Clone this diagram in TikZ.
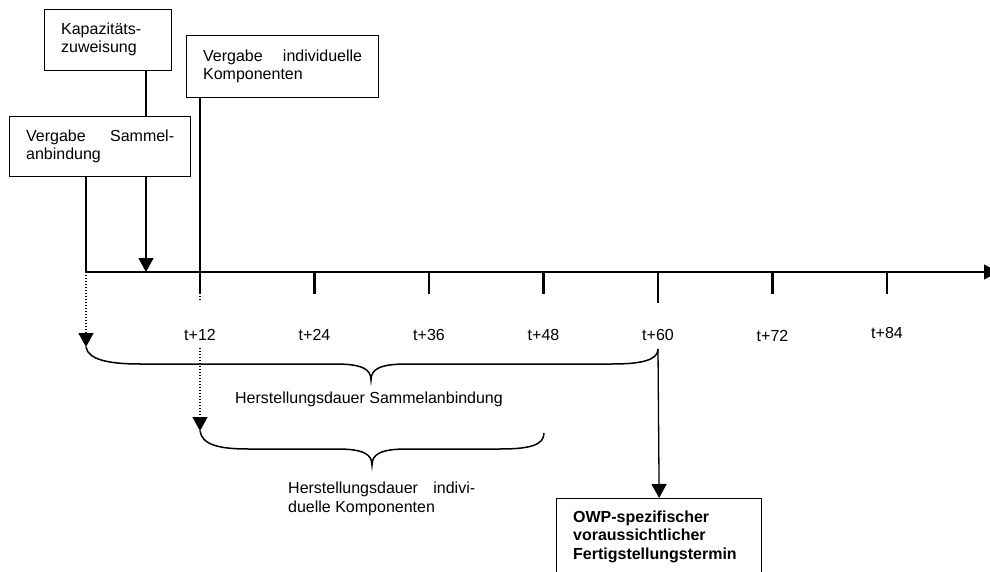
\documentclass[tikz,border=0pt]{standalone}
\usepackage{fontspec}
\setmainfont{Liberation Sans}
\usetikzlibrary{arrows.meta}
\newcommand\bxt[4]{\parbox[c][#2][t]{#1}{\vspace*{#3}#4}}
\begin{document}
\begin{tikzpicture}[x=1pt,y=-1pt,
  every node/.style={font=\fontsize{16pt}{18.4pt}\selectfont},
  box/.style={draw, line width=1.3pt, inner xsep=16.5pt, inner ysep=0pt, anchor=north west},
  ln/.style={line width=1.3pt},
  tk/.style={line width=2.2pt},
  arr/.style={line width=1.3pt, -{Triangle[width=15pt,length=14pt]}},
  dotline/.style={line width=1.3pt, dash pattern=on 1.2pt off 1.8pt},
  dotarr/.style={dotline, -{Triangle[width=15pt,length=14pt]}},
  brace/.style={line width=1.5pt},
  lab/.style={inner sep=0pt}
]
\useasboundingbox (0,0) rectangle (990,572);
\clip (0,0) rectangle (990,572);

% boxes
\node[box] (kap) at (44,9) {\bxt{94pt}{61pt}{13pt}{Kapazitäts-\\zuweisung}};
\node[box] (ind) at (186,35) {\bxt{159pt}{62pt}{14pt}{Vergabe\hfill individuelle\\Komponenten}};
\node[box] (sam) at (9,116) {\bxt{148pt}{60pt}{13pt}{Vergabe\hfill Sammel-\\anbindung}};
\node[box] (owp) at (556,498) {\bxt{172pt}{100pt}{12pt}{\bfseries OWP-spezifischer\\voraussichtlicher\\Fertigstellungstermin}};

% axis coordinates
\coordinate (ax0) at (86,272);
\coordinate (axE) at (998,272);
\coordinate (kA) at (146,272);
\coordinate (t12) at (200,272);
\coordinate (t24) at (314.5,272);
\coordinate (t36) at (429,272);
\coordinate (t48) at (543.5,272);
\coordinate (t60) at (658,272);
\coordinate (t72) at (772.5,272);
\coordinate (t84) at (887,272);

% connectors to axis
\draw[arr] (sam.south -| ax0) -- (ax0) -- (axE);
\draw[ln] (kap.south -| kA) -- (sam.north -| kA);
\draw[arr] (sam.south -| kA) -- (kA);
\draw[ln] (ind.south -| t12) -- (t12);

% ticks
\draw[ln] (t12) -- ++(0,21) coordinate (t12b);
\draw[dotline] (t12b) -- ++(0,9);
\foreach \c in {t24,t36,t48,t72,t84} \draw[tk] (\c) -- ++(0,22);
\draw[ln] (t60) -- ++(0,31);

% tick labels
\node[lab, anchor=base] (l12) at (200,340) {t+12};
\node[lab, anchor=base] (l24) at (314.5,340) {t+24};
\node[lab, anchor=base] (l36) at (429,340) {t+36};
\node[lab, anchor=base] (l48) at (543.5,340) {t+48};
\node[lab, anchor=base] (l60) at (658,340) {t+60};
\node[lab, anchor=base] (l72) at (772.5,341) {t+72};
\node[lab, anchor=base] (l84) at (887,338) {t+84};

% brace 1
\coordinate (b1s) at (86,347);
\coordinate (b1e) at (658,349);
\draw[dotarr] (ax0) -- (b1s);
\draw[brace] (b1s) .. controls (88,360) and (110,364) .. (140,364) -- (335,364)
  .. controls (362,364) and (371,369) .. (371,380)
  .. controls (371,369) and (380,364) .. (407,364) -- (612,364)
  .. controls (642,364) and (658,360) .. (b1e);
\draw[arr] (b1e) -- (owp.north);
\node[lab, anchor=base] (hs) at (369,403) {Herstellungsdauer Sammelanbindung};

% brace 2
\coordinate (d2) at (200,348);
\coordinate (b2s) at (200,431);
\coordinate (b2e) at (544,433);
\draw[dotarr] (d2) -- (b2s);
\draw[brace] (b2s) .. controls (202,445) and (220,449) .. (248,449) -- (337,449)
  .. controls (363,449) and (372,454) .. (372,465)
  .. controls (372,454) and (381,449) .. (407,449) -- (500,449)
  .. controls (530,449) and (544,445) .. (b2e);
\node[lab, anchor=north west] (hi) at (288,482) {\parbox[t]{187pt}{Herstellungsdauer\hfill indivi-\\duelle Komponenten}};
\end{tikzpicture}
\end{document}
